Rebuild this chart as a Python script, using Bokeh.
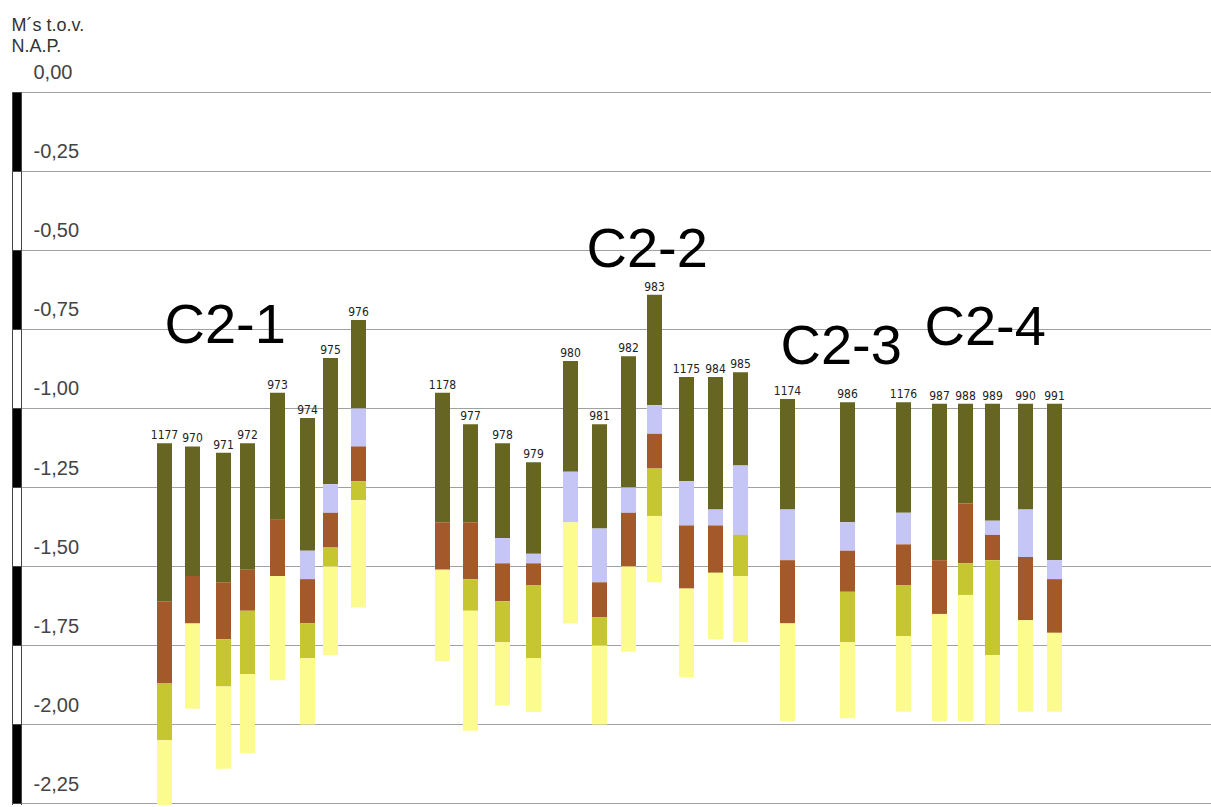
from bokeh.plotting import figure
from bokeh.models import Range1d
from bokeh.embed import file_html
from bokeh.resources import INLINE
from bokeh.core.properties import value

# ---------------- data ----------------
borings = ["1177", "970", "971", "972", "973", "974", "975", "976",
           "1178", "977", "978", "979", "980", "981", "982", "983", "1175", "984", "985",
           "1174", "986",
           "1176", "987", "988", "989", "990", "991"]
# position of each boring along the section
x_pos = [164, 192, 223, 247, 277, 307, 330, 358,
         442, 470, 502, 533, 570, 599, 628, 654, 686, 715, 740,
         787, 847,
         903, 939, 965, 992, 1025, 1054]
# levels in m relative to N.A.P.
top_level = [-1.11, -1.12, -1.14, -1.11, -0.95, -1.03, -0.84, -0.72,
             -0.95, -1.05, -1.11, -1.17, -0.85, -1.05, -0.835, -0.64, -0.90, -0.90, -0.885,
             -0.97, -0.98,
             -0.98, -0.985, -0.985, -0.985, -0.985, -0.985]
bottom_olive = [-1.61, -1.53, -1.55, -1.51, -1.35, -1.45, -1.24, -1.00,
                -1.36, -1.36, -1.41, -1.46, -1.20, -1.38, -1.25, -0.99, -1.23, -1.32, -1.18,
                -1.32, -1.36,
                -1.33, -1.48, -1.30, -1.355, -1.32, -1.48]
bottom_lavender = [None, None, None, None, None, -1.54, -1.33, -1.12,
                   None, None, -1.49, -1.49, -1.36, -1.55, -1.33, -1.08, -1.37, -1.37, -1.40,
                   -1.48, -1.45,
                   -1.43, None, None, -1.40, -1.47, -1.54]
bottom_brown = [-1.87, -1.68, -1.73, -1.64, -1.53, -1.68, -1.44, -1.23,
                -1.51, -1.54, -1.61, -1.56, None, -1.66, -1.50, -1.19, -1.57, -1.52, None,
                -1.68, -1.58,
                -1.56, -1.65, -1.49, -1.48, -1.67, -1.71]
bottom_ochre = [-2.05, None, -1.88, -1.84, None, -1.79, -1.50, -1.29,
                None, -1.64, -1.74, -1.79, None, -1.75, None, -1.34, None, None, -1.53,
                None, -1.74,
                -1.72, None, -1.59, -1.78, None, None]
bottom_yellow = [-2.27, -1.95, -2.14, -2.09, -1.86, -2.00, -1.78, -1.63,
                 -1.80, -2.02, -1.94, -1.96, -1.68, -2.00, -1.77, -1.55, -1.85, -1.73, -1.74,
                 -1.99, -1.98,
                 -1.96, -1.99, -1.99, -2.00, -1.96, -1.96]

group_names = ["C2-1", "C2-2", "C2-3", "C2-4"]
group_label_x = [164, 586, 780, 924]
group_label_y = [-0.731, -0.4905, -0.797, -0.737]

tick_levels = [0.0, -0.25, -0.5, -0.75, -1.0, -1.25, -1.5, -1.75, -2.0, -2.25]
tick_labels = ["0,00", "-0,25", "-0,50", "-0,75", "-1,00", "-1,25", "-1,50", "-1,75", "-2,00", "-2,25"]
y_title = ["M´s t.o.v.", "N.A.P."]

layer_colors = ["#666622", "#c6c6f6", "#a3592a", "#c6c630", "#fbfb8e"]
layers = [bottom_olive, bottom_lavender, bottom_brown, bottom_ochre, bottom_yellow]

# ---------------- figure ----------------
W, H = 1211, 805
p = figure(width=W, height=H, x_range=Range1d(0, W), y_range=Range1d(-2.2563, 0.2911),
           x_axis_type=None, y_axis_type=None, min_border=0, outline_line_color=None,
           toolbar_location=None, output_backend="svg", background_fill_color="white")
p.grid.visible = False

# grid lines
p.segment(x0=[21] * len(tick_levels), y0=tick_levels, x1=[W] * len(tick_levels), y1=tick_levels,
          line_color="#a0a0a0", line_width=1)

# alternating level bar on the left
bar_top = tick_levels
bar_bot = tick_levels[1:] + [-2.30]
bar_fill = ["black" if i % 2 == 0 else "white" for i in range(len(bar_top))]
p.quad(left=12, right=21, top=bar_top, bottom=bar_bot, fill_color=bar_fill,
       line_color="#444444", line_width=1)

# tick labels
p.text(x=[33] * len(tick_levels), y=tick_levels, text=tick_labels,
       text_font=value("Liberation Sans"), text_font_size="20px", text_color="#444444",
       text_baseline="bottom", text_align="left", y_offset=-13)

# y title
p.text(x=[11, 11], y=[0.2437, 0.180], text=y_title, text_font=value("Liberation Sans"),
       text_font_size="18px", text_color="#333333", text_baseline="top", text_align="left")

# stacked layers
prev = list(top_level)
for colr, bottoms in zip(layer_colors, layers):
    xs, tops, bots = [], [], []
    for i, b in enumerate(bottoms):
        if b is None:
            continue
        xs.append(x_pos[i]); tops.append(prev[i]); bots.append(b)
        prev[i] = b
    p.vbar(x=xs, top=tops, bottom=bots, width=15, fill_color=colr, line_color=None)

# boring numbers
p.text(x=x_pos, y=top_level, text=borings,
       text_font=value("DejaVu Sans Condensed"),
       text_font_size="12px", text_color="#222222", text_align="center",
       text_baseline="bottom", y_offset=-4)

# group names
p.text(x=group_label_x, y=group_label_y, text=group_names, text_font=value("Liberation Sans"),
       text_font_size="56px", text_color="black", text_align="left", text_baseline="alphabetic")

open("out.html", "w").write(file_html(p, INLINE))
